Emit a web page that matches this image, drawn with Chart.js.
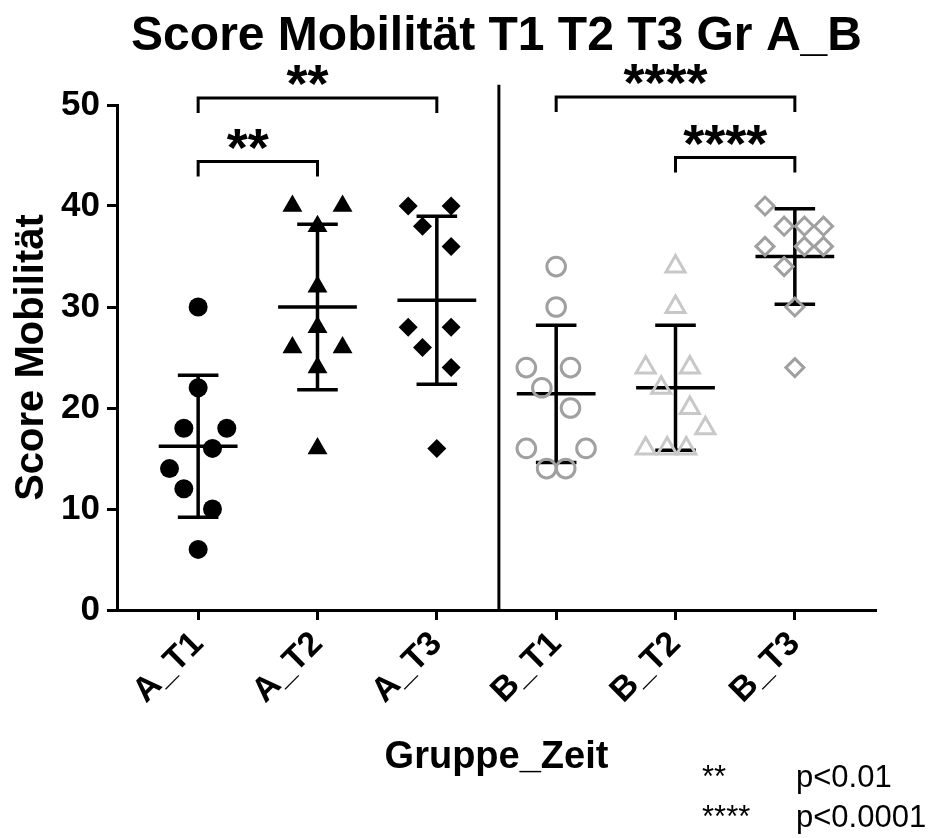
<!DOCTYPE html>
<html>
<head>
<meta charset="utf-8">
<script src="https://cdn.jsdelivr.net/npm/chart.js@4.4.1/dist/chart.umd.min.js"></script>
<style>
  html, body { margin: 0; padding: 0; background: #fff; }
  #wrap { position: relative; width: 931px; height: 838px; }
  #legend {
    position: absolute; left: 702px; top: 757px;
    font: 31px "Liberation Sans", Arial, sans-serif; line-height: 40px; color: #000;
  }
  #legend .mark { display: inline-block; width: 94px; }
</style>
</head>
<body>
<div id="wrap">
  <canvas id="chart" width="931" height="838"></canvas>
  <div id="legend"></div>
</div>
<script>
var FONT = "'Liberation Sans', Arial, sans-serif";

var categories = ['A_T1', 'A_T2', 'A_T3', 'B_T1', 'B_T2', 'B_T3'];
var yTicks = [0, 10, 20, 30, 40, 50];

var scoresA_T1 = [30, 22, 18, 18, 16, 14, 12, 10, 6];
var scoresA_T2 = [40, 40, 38, 32, 28, 26, 26, 24, 16];
var scoresA_T3 = [40, 40, 38, 36, 28, 28, 26, 24, 16];
var scoresB_T1 = [34, 30, 24, 24, 22, 20, 16, 16, 14, 14];
var scoresB_T2 = [34, 30, 24, 24, 22, 20, 18, 16, 16, 16];
var scoresB_T3 = [40, 38, 38, 38, 36, 36, 36, 34, 30, 24];

// sideways scatter of each dot inside its group (category units)
var spreadA_T1 = [0, 0, -0.12, 0.24, 0.12, -0.24, -0.12, 0.12, 0];
var spreadA_T2 = [-0.21, 0.21, 0, 0, 0, -0.21, 0.21, 0, 0];
var spreadA_T3 = [-0.24, 0.12, -0.12, 0.12, -0.24, 0.12, -0.12, 0.12, 0];
var spreadB_T1 = [0, 0, -0.25, 0.12, -0.12, 0.12, -0.25, 0.25, -0.08, 0.08];
var spreadB_T2 = [0, 0, -0.25, 0.12, -0.12, 0.12, 0.25, -0.25, -0.07, 0.09];
var spreadB_T3 = [-0.25, -0.09, 0.08, 0.24, -0.25, 0.08, 0.24, -0.09, 0, 0];

// significance brackets
var sigPairs = [[0, 2], [0, 1], [3, 5], [4, 5]];
var sigLabels = ['**', '**', '****', '****'];
var sigLevels = [50.7, 44.4, 50.8, 44.8];

var legendMarks = ['**', '****'];
var legendTexts = ['p<0.01', 'p<0.0001'];

var groups = [scoresA_T1, scoresA_T2, scoresA_T3, scoresB_T1, scoresB_T2, scoresB_T3];
var spreads = [spreadA_T1, spreadA_T2, spreadA_T3, spreadB_T1, spreadB_T2, spreadB_T3];

var looks = [
    {style: 'circle',   radius: 9.5,  fill: '#000', line: '#000', width: 0},
    {style: 'triangle', radius: 11.5, fill: '#000', line: '#000', width: 0},
    {style: 'rectRot',  radius: 9.5,  fill: '#000', line: '#000', width: 0},
    {style: 'circle',   radius: 9.3,  fill: 'rgba(0,0,0,0)', line: '#a0a0a0', width: 3},
    {style: 'triangle', radius: 11,   fill: 'rgba(0,0,0,0)', line: '#c8c8c8', width: 3},
    {style: 'rectRot',  radius: 9,    fill: 'rgba(0,0,0,0)', line: '#a0a0a0', width: 3}
];

function mean(arr) {
    var s = 0;
    for (var i = 0; i < arr.length; i++) s += arr[i];
    return s / arr.length;
}
function sd(arr) {
    var m = mean(arr), s = 0;
    for (var i = 0; i < arr.length; i++) s += (arr[i] - m) * (arr[i] - m);
    return Math.sqrt(s / (arr.length - 1));
}

var datasets = groups.map(function (vals, g) {
    return {
        label: categories[g],
        data: vals.map(function (v, k) { return {x: g + spreads[g][k], y: v}; }),
        pointStyle: looks[g].style,
        pointRadius: looks[g].radius,
        backgroundColor: looks[g].fill,
        borderColor: looks[g].line,
        borderWidth: looks[g].width
    };
});

var groupMarks = {
    id: 'groupMarks',
    beforeDatasetsDraw: function (chart) {
        var ctx = chart.ctx, xs = chart.scales.x, ys = chart.scales.y;
        ctx.save();
        ctx.strokeStyle = '#000';
        ctx.lineWidth = 3.5;
        groups.forEach(function (vals, g) {
            var m = mean(vals), s = sd(vals);
            var x = xs.getPixelForValue(g);
            var top = ys.getPixelForValue(m + s), bot = ys.getPixelForValue(m - s), mid = ys.getPixelForValue(m);
            ctx.beginPath();
            ctx.moveTo(x, top); ctx.lineTo(x, bot);
            ctx.moveTo(xs.getPixelForValue(g - 0.17), top); ctx.lineTo(xs.getPixelForValue(g + 0.17), top);
            ctx.moveTo(xs.getPixelForValue(g - 0.17), bot); ctx.lineTo(xs.getPixelForValue(g + 0.17), bot);
            ctx.moveTo(xs.getPixelForValue(g - 0.33), mid); ctx.lineTo(xs.getPixelForValue(g + 0.33), mid);
            ctx.stroke();
        });
        ctx.restore();
    },
    afterDraw: function (chart) {
        var ctx = chart.ctx, xs = chart.scales.x, ys = chart.scales.y, area = chart.chartArea;
        ctx.save();
        // divider between group A and group B
        ctx.strokeStyle = '#000';
        ctx.lineWidth = 3;
        ctx.beginPath();
        ctx.moveTo(xs.getPixelForValue(2.52), ys.getPixelForValue(52));
        ctx.lineTo(xs.getPixelForValue(2.52), area.bottom);
        ctx.stroke();

        // brackets
        ctx.fillStyle = '#000';
        ctx.font = 'bold 54px ' + FONT;
        ctx.textAlign = 'center';
        ctx.textBaseline = 'alphabetic';
        sigPairs.forEach(function (p, i) {
            var x1 = xs.getPixelForValue(p[0]), x2 = xs.getPixelForValue(p[1]);
            var y = ys.getPixelForValue(sigLevels[i]);
            ctx.beginPath();
            ctx.moveTo(x1, y + 15); ctx.lineTo(x1, y); ctx.lineTo(x2, y); ctx.lineTo(x2, y + 15);
            ctx.stroke();
            ctx.fillText(sigLabels[i], (x1 + x2) / 2 - 10, y + 4);
        });

        // title
        ctx.font = 'bold 48px ' + FONT;
        ctx.fillText('Score Mobilität T1 T2 T3 Gr A_B', (area.left + area.right) / 2, 50);
        ctx.restore();
    }
};

new Chart(document.getElementById('chart'), {
    type: 'scatter',
    data: {datasets: datasets},
    options: {
        responsive: false,
        animation: false,
        events: [],
        layout: {padding: {top: 105, right: 55, left: 0, bottom: 0}},
        plugins: {
            legend: {display: false},
            tooltip: {enabled: false},
            title: {display: false}
        },
        scales: {
            x: {
                type: 'linear',
                min: -0.68,
                max: 5.68,
                afterBuildTicks: function (s) {
                    s.ticks = categories.map(function (c, i) { return {value: i}; });
                },
                afterFit: function (s) { s.height = 228; },
                ticks: {
                    autoSkip: false,
                    minRotation: 45,
                    maxRotation: 45,
                    padding: 4,
                    color: '#000',
                    font: {family: FONT, size: 34, weight: 'bold'},
                    callback: function (v) { return categories[v]; }
                },
                grid: {drawOnChartArea: false, drawTicks: true, tickLength: 10, tickWidth: 3, tickColor: '#000'},
                border: {display: true, color: '#000', width: 3},
                title: {
                    display: true,
                    text: 'Gruppe_Zeit',
                    color: '#000',
                    font: {family: FONT, size: 38, weight: 'bold'},
                    padding: {top: 0, bottom: 58}
                }
            },
            y: {
                min: 0,
                max: 50,
                afterBuildTicks: function (s) {
                    s.ticks = yTicks.map(function (v) { return {value: v}; });
                },
                afterFit: function (s) { s.width = 117; },
                ticks: {
                    padding: 7,
                    color: '#000',
                    font: {family: FONT, size: 35, weight: 'bold'}
                },
                grid: {drawOnChartArea: false, drawTicks: true, tickLength: 10, tickWidth: 3, tickColor: '#000'},
                border: {display: true, color: '#000', width: 3},
                title: {
                    display: true,
                    text: 'Score Mobilität',
                    color: '#000',
                    font: {family: FONT, size: 40, weight: 'bold'},
                    padding: {top: 8, bottom: 0}
                }
            }
        }
    },
    plugins: [groupMarks]
});

var legendHtml = '';
legendMarks.forEach(function (m, i) {
    legendHtml += '<div><span class="mark">' + m + '</span>' + legendTexts[i] + '</div>';
});
document.getElementById('legend').innerHTML = legendHtml;
</script>
</body>
</html>
